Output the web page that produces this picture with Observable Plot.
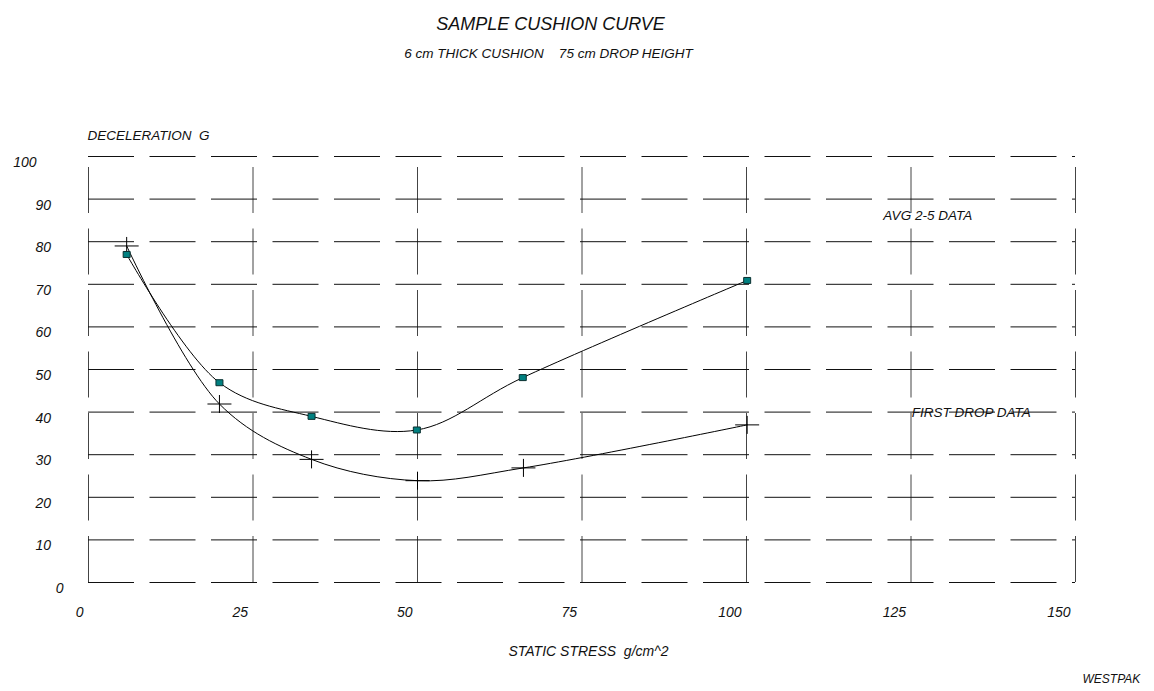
<!DOCTYPE html>
<html><head><meta charset="utf-8">
<script src="https://cdn.jsdelivr.net/npm/d3@7"></script>
<script src="https://cdn.jsdelivr.net/npm/@observablehq/plot@0.6"></script>
<style>body{margin:0;background:#fff} svg{display:block}</style>
</head><body><div id="chart"></div>
<script>
// ---- data ----
const xTicks = [0, 25, 50, 75, 100, 125, 150];
const yTicks = [0, 10, 20, 30, 40, 50, 60, 70, 80, 90, 100];
const avgStress = [5.8, 19.9, 33.9, 49.9, 66, 100.1];
const avgDecel  = [77, 46.9, 39, 35.8, 48.1, 70.9];
const firstStress = [5.8, 19.9, 33.9, 50, 66.1, 100.1];
const firstDecel  = [79, 41.9, 28.9, 23.9, 26.9, 37];

const avg = avgStress.map((x, i) => ({x, y: avgDecel[i]}));
const first = firstStress.map((x, i) => ({x, y: firstDecel[i]}));

const font = "'Liberation Sans', Arial, sans-serif";
const cross = {draw(ctx) { ctx.moveTo(-12, 0); ctx.lineTo(12, 0); ctx.moveTo(0, -9); ctx.lineTo(0, 9); }};
const box = {draw(ctx) { ctx.rect(-3.5, -3, 7, 6); }};
const txt = {fontStyle: "italic", fill: "#111"};

const chart = Plot.plot({
  width: 1154, height: 691,
  marginLeft: 88, marginRight: 79, marginTop: 156, marginBottom: 109,
  x: {domain: [0, 150], axis: null},
  y: {domain: [0, 100], axis: null},
  style: {fontFamily: font, background: "#fff"},
  marks: [
    Plot.ruleX(xTicks, {x: d => d, y1: 0, y2: 100, stroke: "#444", strokeDasharray: "46 15.5"}),
    Plot.ruleY(yTicks, {y: d => d, x1: 0, x2: 150, stroke: "#111", strokeDasharray: "46 15.5"}),
    // y tick labels
    Plot.text(yTicks.filter(d => d > 0 && d < 100), {x: 0, y: d => d, text: d => String(d), textAnchor: "end", dx: -37.5, dy: 6, fontSize: 14, ...txt}),
    Plot.text(yTicks.filter(d => d === 100), {x: 0, y: d => d, text: d => String(d), textAnchor: "end", dx: -52, dy: 6, fontSize: 14, ...txt}),
    Plot.text(yTicks.filter(d => d === 0), {x: 0, y: d => d, text: d => String(d), textAnchor: "end", dx: -25, dy: 6, fontSize: 14, ...txt}),
    // x tick labels
    Plot.text(xTicks, {x: d => d, y: 0, text: d => String(d), textAnchor: "end", dx: -5, dy: 30, fontSize: 14, ...txt}),
    // curves
    Plot.line(avg, {x: "x", y: "y", curve: "catmull-rom", stroke: "#000", strokeWidth: 1}),
    Plot.line(first, {x: "x", y: "y", curve: "catmull-rom", stroke: "#000", strokeWidth: 1}),
    Plot.dot(first, {x: "x", y: "y", symbol: cross, fill: "none", stroke: "#000", strokeWidth: 1}),
    Plot.dot(avg, {x: "x", y: "y", symbol: box, fill: "#008080", stroke: "#0a3030", strokeWidth: 1}),
    // series labels
    Plot.text(["AVG 2-5 DATA"], {x: 120.8, y: 86, textAnchor: "start", fontSize: 13.5, ...txt}),
    Plot.text(["FIRST DROP DATA"], {x: 125.1, y: 39.9, textAnchor: "start", fontSize: 13.5, ...txt}),
    // titles and axis titles
    Plot.text(["SAMPLE CUSHION CURVE"], {frameAnchor: "top", dx: -31.5, dy: -139, fontSize: 18, ...txt}),
    Plot.text(["6 cm THICK CUSHION\u00a0\u00a0\u00a0\u00a075 cm DROP HEIGHT"], {frameAnchor: "top", dx: -33.5, dy: -108.3, fontSize: 13.5, ...txt}),
    Plot.text(["DECELERATION\u00a0\u00a0G"], {frameAnchor: "top-left", textAnchor: "start", dx: -1, dy: -26.5, fontSize: 13.5, ...txt}),
    Plot.text(["STATIC STRESS\u00a0\u00a0g/cm^2"], {frameAnchor: "bottom", dx: 6.5, dy: 73, fontSize: 14, ...txt}),
    Plot.text(["WESTPAK"], {frameAnchor: "bottom-right", textAnchor: "start", dx: 7, dy: 100.5, fontSize: 12, ...txt})
  ]
});
document.getElementById("chart").appendChild(chart);
</script>
</body></html>
